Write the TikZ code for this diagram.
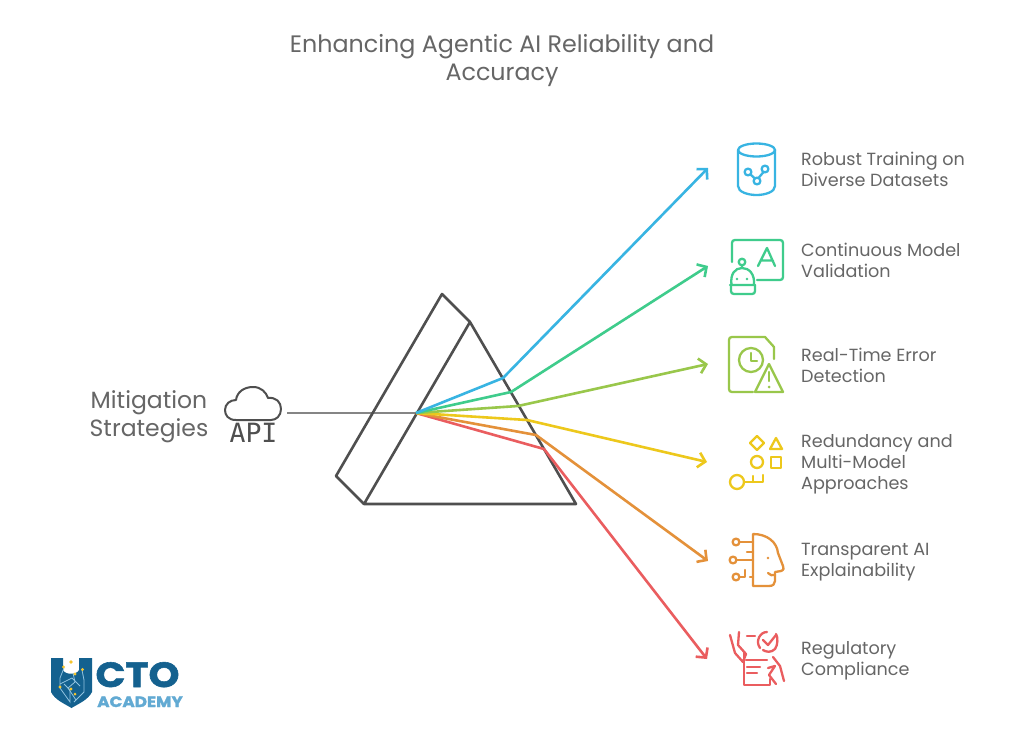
\documentclass[tikz,border=0pt]{standalone}
\usepackage{fontspec}
\setmainfont{Poppins}
\newfontfamily\monof{DejaVu Sans Mono}
\newfontfamily\heavyf[UprightFont=* Bold,FakeBold=1.6]{Poppins}
\usetikzlibrary{arrows.meta}
\definecolor{cblue}{HTML}{38B4E2}
\definecolor{cgreen}{HTML}{3FCC8C}
\definecolor{clime}{HTML}{99C74B}
\definecolor{cyell}{HTML}{EDC81C}
\definecolor{corng}{HTML}{E4913A}
\definecolor{cred}{HTML}{EA5D5F}
\definecolor{ctxt}{HTML}{666666}
\definecolor{cdark}{HTML}{4F4F4F}
\definecolor{lblue}{HTML}{14618F}
\definecolor{lsky}{HTML}{62AAD3}
\definecolor{lgold}{HTML}{F5C52E}
\tikzset{
  lbl/.style={anchor=west,align=left,text=ctxt,font=\fontsize{17.6}{21}\selectfont,inner sep=0pt},
  ray/.style={line width=2.6pt,line join=round,-{Straight Barb[length=7pt,width=15pt,line width=2.6pt]}},
  prism/.style={draw=cdark,line width=2.6pt,line join=round},
  ico/.style={line width=2.3pt,line cap=round,line join=round,fill=none},
}
\begin{document}
\begin{tikzpicture}[x=1pt,y=-1pt]
\useasboundingbox (0,0) rectangle (1024,744);
\fill[white] (0,0) rectangle (1024,744);
% title
\node[text=ctxt,align=center,inner sep=0pt,font=\fontsize{23.8}{28}\selectfont] (title) at (502,61) {Enhancing Agentic AI Reliability and\\Accuracy};
\node[text=ctxt,align=center,inner sep=0pt,font=\fontsize{23.5}{28}\selectfont] (mit) at (149,417) {Mitigation\\Strategies};
% prism
\coordinate (pa) at (470,322); \coordinate (pb) at (576,504); \coordinate (pc) at (364,504);
\coordinate (qa) at (442,294); \coordinate (qc) at (336,476);
\coordinate (src) at (287,413); \coordinate (hit) at (416,413);
\draw[draw=ctxt!80,line width=2.2pt] (src) -- (hit);
\draw[prism] (pa) -- (pb) -- (pc) -- cycle;
\draw[prism] (pa) -- (qa) -- (qc) -- (pc);
% rays
\coordinate (b1) at (503,378); \coordinate (e1) at (708,168);
\coordinate (b2) at (511,392); \coordinate (e2) at (708,266);
\coordinate (b3) at (518,406); \coordinate (e3) at (708,364);
\coordinate (b4) at (527,420); \coordinate (e4) at (707,462);
\coordinate (b5) at (536,435); \coordinate (e5) at (708,561);
\coordinate (b6) at (544,449); \coordinate (e6) at (707,659);
\draw[ray,cred] (hit) -- (b6) -- (e6);
\draw[ray,corng] (hit) -- (b5) -- (e5);
\draw[ray,cyell] (hit) -- (b4) -- (e4);
\draw[ray,clime] (hit) -- (b3) -- (e3);
\draw[ray,cgreen] (hit) -- (b2) -- (e2);
\draw[ray,cblue] (hit) -- (b1) -- (e1);
% labels
\node[lbl] (l1) at (801,169.5) {Robust Training on\\Diverse Datasets};
\node[lbl] (l2) at (801,260.5) {Continuous Model\\Validation};
\node[lbl] (l3) at (801,365.5) {Real-Time Error\\Detection};
\node[lbl] (l4) at (801,464) {Redundancy and\\Multi-Model\\Approaches};
\node[lbl] (l5) at (801,562) {Transparent AI\\Explainability};
\node[lbl] (l6) at (801,660.5) {Regulatory\\Compliance};
% cloud API
\draw[cdark,line width=2pt,line join=round] (236,420) .. controls (228,420) and (225,415) .. (225,410)
  .. controls (225,404) and (230,400) .. (236,400)
  .. controls (237,392) and (244,387) .. (253,387)
  .. controls (261,387) and (266,392) .. (268,398)
  .. controls (276,397) and (281,402) .. (281,409)
  .. controls (281,416) and (276,420) .. (271,420) -- cycle;
\node[text=cdark,inner sep=0pt,font=\monof\fontsize{26.5}{26}\selectfont] (api) at (253.5,433) {API};
% blue icon
\begin{scope}[ico]
\draw[cblue] (756.5,150) ellipse [x radius=18.5,y radius=6.5];
\draw[cblue] (738,150) -- (738,186) .. controls (738,192) and (748,195) .. (756.5,195) .. controls (765,195) and (775,192) .. (775,186) -- (775,150);
\draw[cblue] (748,172) circle (3.4) (765,169) circle (3.4) (757,181) circle (3.4);
\draw[cblue] (750.5,174.5) -- (755,178.5) (763.5,172) -- (758.5,178);
\end{scope}
% green icon
\begin{scope}[ico]
\draw[cgreen] (732,262) -- (732,243) .. controls (732,241) and (733,240) .. (735,240) -- (780,240) .. controls (782,240) and (783,241) .. (783,243) -- (783,277) .. controls (783,279) and (782,280) .. (780,280) -- (757,280);
\draw[cgreen] (758,266) -- (767,248) -- (775,266) (760.5,260.5) -- (773,260.5);
\draw[cgreen] (742,262) circle (3.3) (742,265.5) -- (742,268);
\draw[cgreen] (731.5,285) .. controls (730,274) and (735,268) .. (742,268) .. controls (749,268) and (755,274) .. (754,285) (730,285) -- (755,285);
\draw[cgreen] (731,285) -- (731,291) .. controls (731,293) and (732,294) .. (734,294) -- (752,294) .. controls (754,294) and (755,293) .. (755,291) -- (755,285);
\fill[cgreen] (737,279) circle (1.4) (747,279) circle (1.4);
\end{scope}
% lime icon
\begin{scope}[ico]
\draw[clime] (753,392) -- (732,392) .. controls (730,392) and (729,391) .. (729,389) -- (729,340) .. controls (729,338) and (730,337) .. (732,337) -- (765,337) -- (774,347) -- (774,359);
\draw[clime] (751,360) circle (12);
\draw[clime] (751,353) -- (751,361) -- (757,361);
\draw[clime] (769,364) -- (783,392) -- (755,392) -- cycle;
\draw[clime] (769,372) -- (769,381);
\fill[clime] (769,387) circle (1.5);
\end{scope}
% yellow icon
\begin{scope}[ico]
\draw[cyell] (757,436) -- (764,443) -- (757,450) -- (750,443) -- cycle;
\draw[cyell] (776,438) -- (782,449) -- (770,449) -- cycle;
\draw[cyell] (757,462) circle (6);
\draw[cyell] (771,457) rectangle (781,468);
\draw[cyell] (737,482) circle (7);
\draw[cyell] (744,482) -- (763,482) -- (763,475) (753,482) -- (753,476);
\end{scope}
% orange icon
\begin{scope}[ico]
\draw[corng] (753,534) -- (753,586) -- (769,586) .. controls (773,586) and (775,584) .. (775,581) -- (775,572) -- (781,571) .. controls (784,570) and (784,568) .. (783,566) -- (778,553) .. controls (777,542) and (767,534) .. (753,534);
\fill[corng] (768,558) circle (1.4);
\draw[corng] (768,573) .. controls (770,575) and (772,576) .. (775,575);
\draw[corng] (736,542) circle (3.4) (733,560) circle (3.4) (736,577) circle (3.4);
\draw[corng] (739.5,542) -- (753,542) (747,552) -- (753,552) (736.5,560) -- (753,560) (739.5,577) -- (745,577) -- (745,570) (750,577) -- (753,577);
\end{scope}
% red icon
\begin{scope}[ico]
\draw[cred] (744,652) -- (744,685) -- (770,685) -- (770,679);
\draw[cred] (746,660) -- (767,660) (747,667) -- (760,667) (747,673) -- (757,673);
\draw[cred] (760,648) .. controls (755,641) and (760,632) .. (767,632) (776,634) .. controls (778,637) and (778,645) .. (775,649) .. controls (771,653) and (766,652) .. (763,650);
\draw[cred] (763,640) -- (768,645) -- (776,635);
\draw[cred] (747,636) -- (755,636);
\draw[cred] (730,635) -- (735,653) -- (743,662) -- (746,654) -- (738,645) -- (739,632);
\draw[cred] (773,657) -- (780,666) -- (784,681) (768,668) -- (775,666) -- (769,675) -- (776,684);
\end{scope}
% logo
\fill[lblue] (51,658) -- (63,658) -- (63,670) .. controls (65,675) and (77,675) .. (79,670) -- (79,658) -- (92,658) -- (92,692) .. controls (88,700) and (78,704) .. (71.5,708) .. controls (65,704) and (55,700) .. (51,692) -- cycle;
\begin{scope}[line width=0.8pt,draw=lsky!70!white]
\draw (64,668) -- (60,678) -- (60,688) -- (70,702) -- (70,690) -- (64,684);
\draw (73,673) -- (75,682) -- (68,688) -- (76,700);
\draw (82,670) -- (84,680) -- (84,692) -- (74,702);
\draw (60,684) -- (72,678) -- (80,686);
\end{scope}
\fill[lgold] (71,662) circle (1.8) (63.5,667) circle (1.7) (75,674) circle (1.7) (82.5,669.5) circle (1.7) (60,687) circle (1.7) (71,689) circle (1.7) (75,694) circle (1.5);
\node[inner sep=0pt,text=lblue,xscale=1.12,text height=24pt,text depth=0pt,font=\heavyf\fontsize{35}{35}\selectfont] (cto) at (137.5,675) {CTO};
\node[inner sep=0pt,text=lsky,xscale=1.12,text height=10.5pt,text depth=0pt,font=\heavyf\fontsize{15}{15}\selectfont] (acad) at (140,701.75) {ACADEMY};
\end{tikzpicture}
\end{document}
